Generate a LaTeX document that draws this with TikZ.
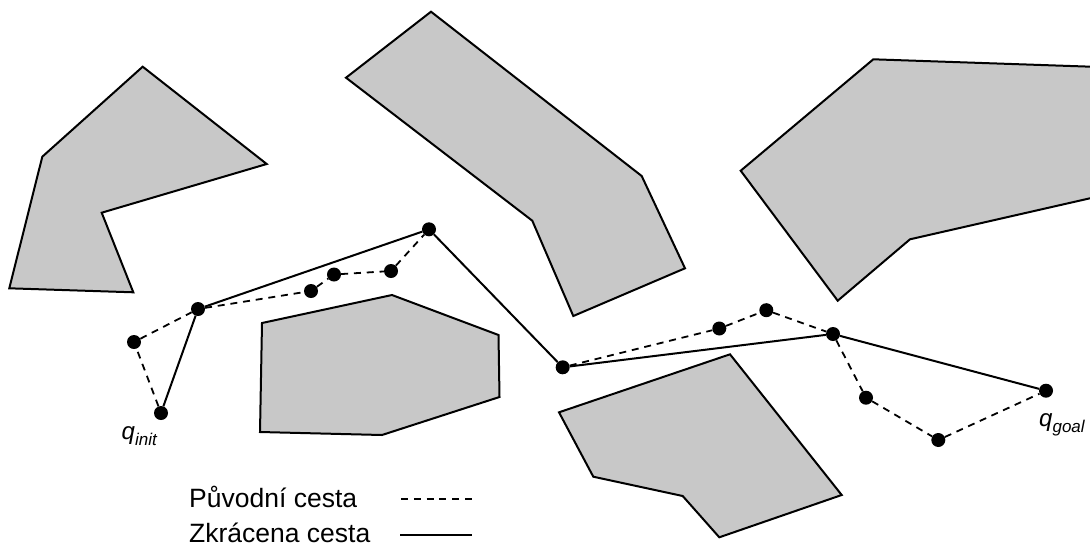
\documentclass[tikz,border=0pt]{standalone}
\usepackage{fontspec}
\setmainfont{Liberation Sans}
\definecolor{obstfill}{RGB}{200,200,200}
\begin{document}
\begin{tikzpicture}[x=1pt,y=-1pt,
  obstacle/.style={draw=black,fill=obstfill,line width=2pt,line join=miter},
  waypoint/.style={circle,fill=black,inner sep=0pt,minimum size=14pt},
  origpath/.style={line width=1.8pt,dash pattern=on 7pt off 5.8pt},
  shortpath/.style={line width=2pt},
  legendtext/.style={anchor=base west,inner sep=0pt,font=\fontsize{26.5}{30}\selectfont},
  qlabel/.style={anchor=base west,inner sep=0pt,font=\fontsize{24}{26}\selectfont\itshape}]
\useasboundingbox (0,0) rectangle (1090,547);

% obstacles
\begin{scope}
  \clip (0,0) rectangle (1090,547);
  \draw[obstacle] (142.7,66.7) -- (266.7,164) -- (101.7,212.7) -- (133.3,292.3)
    -- (9.3,288.3) -- (42.3,156.7) -- cycle;
  \draw[obstacle] (431,11.7) -- (641.7,176) -- (685,268.3) -- (573.3,316)
    -- (532.3,220.7) -- (346,77.7) -- cycle;
  \draw[obstacle] (873.3,59.3) -- (1100,67) -- (1100,196) -- (910,239.3)
    -- (837.7,300.7) -- (740.7,170.7) -- cycle;
  \draw[obstacle] (262,323) -- (392,295) -- (498.5,335) -- (499.5,397)
    -- (382,435) -- (260,432) -- cycle;
  \draw[obstacle] (559,412.3) -- (730,354.3) -- (841.7,495) -- (719.3,537.3)
    -- (682.7,496) -- (593.3,476.7) -- cycle;
\end{scope}

% waypoints
\node[waypoint] (qi)  at (161,413)   {};
\node[waypoint] (p1)  at (134,342)   {};
\node[waypoint] (p2)  at (198,309)   {};
\node[waypoint] (p3)  at (311,291)   {};
\node[waypoint] (p4)  at (334,274.5) {};
\node[waypoint] (p5)  at (391,271)   {};
\node[waypoint] (p6)  at (429,229.3) {};
\node[waypoint] (p7)  at (562.7,367.3) {};
\node[waypoint] (p8)  at (719.3,328.5) {};
\node[waypoint] (p9)  at (766.3,310.2) {};
\node[waypoint] (p10) at (833,334)   {};
\node[waypoint] (p11) at (866,397.7) {};
\node[waypoint] (p12) at (938.3,440) {};
\node[waypoint] (qg)  at (1046,390.7) {};

% original path
\draw[origpath] (qi) -- (p1) -- (p2) -- (p3) -- (p4) -- (p5) -- (p6);
\draw[origpath] (p7) -- (p8) -- (p9) -- (p10) -- (p11) -- (p12) -- (qg);
% shortened path
\draw[shortpath] (qi) -- (p2) -- (p6) -- (p7) -- (p10) -- (qg);

% labels
\node[qlabel] (qinit) at (121.5,439) {q\raisebox{-6pt}{\fontsize{17}{18}\selectfont init}};
\node[qlabel] (qgoal) at (1039,426) {q\raisebox{-6pt}{\fontsize{17}{18}\selectfont goal}};

% legend
\node[legendtext] (legorig)  at (189,507) {Původní cesta};
\node[legendtext] (legshort) at (189,542) {Zkrácena cesta};
\coordinate (do1) at (401,499);
\coordinate (do2) at (472,499);
\coordinate (ds1) at (400,535);
\coordinate (ds2) at (472,535);
\draw[origpath] (do1) -- (do2);
\draw[shortpath] (ds1) -- (ds2);
\end{tikzpicture}
\end{document}
